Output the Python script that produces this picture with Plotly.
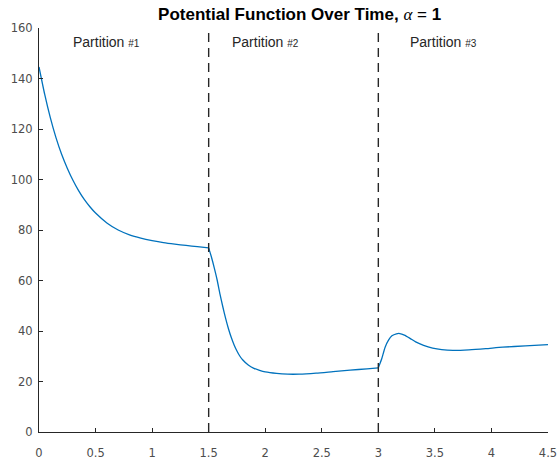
import plotly.graph_objects as go

# Curve data, one list pair per partition
t_part1 = [0.0, 0.05, 0.1, 0.15, 0.2, 0.25, 0.3, 0.35, 0.4, 0.45, 0.5, 0.6, 0.7, 0.8, 0.9, 1.0, 1.1, 1.2, 1.3, 1.4, 1.5]
v_part1 = [144.6, 133.8, 124.5, 116.6, 110.0, 104.5, 99.7, 95.6, 92.1, 89.2, 86.7, 82.8, 80.0, 78.1, 76.8, 75.8,
           75.0, 74.4, 73.9, 73.4, 72.9]
t_part2 = [1.5, 1.525, 1.55, 1.575, 1.6, 1.625, 1.65, 1.675, 1.7, 1.725, 1.75, 1.775, 1.8, 1.85, 1.9, 1.95, 2.0,
           2.1, 2.2, 2.3, 2.45, 2.6, 2.75, 2.9, 3.0]
v_part2 = [72.9, 69.2, 64.9, 60.2, 54.6, 49.6, 45.0, 40.9, 37.4, 34.5, 32.1, 30.1, 28.6, 26.5, 25.2, 24.4, 23.8,
           23.2, 22.9, 22.9, 23.3, 23.9, 24.5, 25.0, 25.4]
t_part3 = [3.0, 3.01, 3.03, 3.06, 3.09, 3.12, 3.16, 3.19, 3.23, 3.28, 3.33, 3.4, 3.48, 3.56, 3.66, 3.8, 3.95,
           4.1, 4.3, 4.5]
v_part3 = [25.4, 26.6, 29.0, 33.6, 36.4, 38.1, 38.9, 39.0, 38.4, 37.1, 35.7, 34.3, 33.2, 32.6, 32.3, 32.5, 33.0,
           33.6, 34.1, 34.6]

partition_bounds = [1.5, 3.0]
partition_labels = ["Partition <span style='font-size:10px'>#1</span>",
                    "Partition <span style='font-size:10px'>#2</span>",
                    "Partition <span style='font-size:10px'>#3</span>"]
partition_label_x = [0.6, 2.0, 3.58]

x_ticks = [0, 0.5, 1, 1.5, 2, 2.5, 3, 3.5, 4, 4.5]
x_tick_text = ["0", "0.5", "1", "1.5", "2", "2.5", "3", "3.5", "4", "4.5"]
y_ticks = [0, 20, 40, 60, 80, 100, 120, 140, 160]

fig = go.Figure()
for tx, vy in [(t_part1, v_part1), (t_part2, v_part2), (t_part3, v_part3)]:
    fig.add_trace(go.Scatter(x=tx, y=vy, mode="lines",
                             line=dict(color="#0072BD", width=1.3, shape="spline", smoothing=0.6),
                             hoverinfo="skip", showlegend=False))

for xb in partition_bounds:
    fig.add_trace(go.Scatter(x=[xb, xb], y=[0, 160], mode="lines",
                             line=dict(color="#262626", width=1.4, dash="9px,6px"),
                             hoverinfo="skip", showlegend=False))

for lbl, lx in zip(partition_labels, partition_label_x):
    fig.add_annotation(x=lx, y=154.5, text=lbl, showarrow=False,
                       font=dict(family="Liberation Sans, Arial", size=14, color="#262626"))

fig.update_layout(
    width=558, height=462,
    margin=dict(l=39, r=10, t=28, b=30, autoexpand=False),
    paper_bgcolor="white", plot_bgcolor="white",
    title=dict(text="<b>Potential Function Over Time, </b><i style='font-family:Liberation Serif'>α</i> = <b>1</b>",
               x=0.537, xanchor="center", y=0.97, yanchor="middle",
               font=dict(family="Liberation Sans, Arial", size=17, color="black")),
    xaxis=dict(range=[0, 4.5], tickvals=x_ticks, ticktext=x_tick_text,
               showgrid=False, zeroline=False, showline=True, linecolor="#262626", linewidth=1,
               ticks="inside", ticklen=4, tickcolor="#262626", ticklabelstandoff=10,
               tickfont=dict(family="DejaVu Sans", size=11.5, color="#4d4d4d")),
    yaxis=dict(range=[0, 160], tickvals=y_ticks,
               showgrid=False, zeroline=False, showline=True, linecolor="#262626", linewidth=1,
               ticks="inside", ticklen=4, tickcolor="#262626", ticklabelstandoff=3,
               tickfont=dict(family="DejaVu Sans", size=11.5, color="#4d4d4d")),
)

fig.write_html("out.html")
